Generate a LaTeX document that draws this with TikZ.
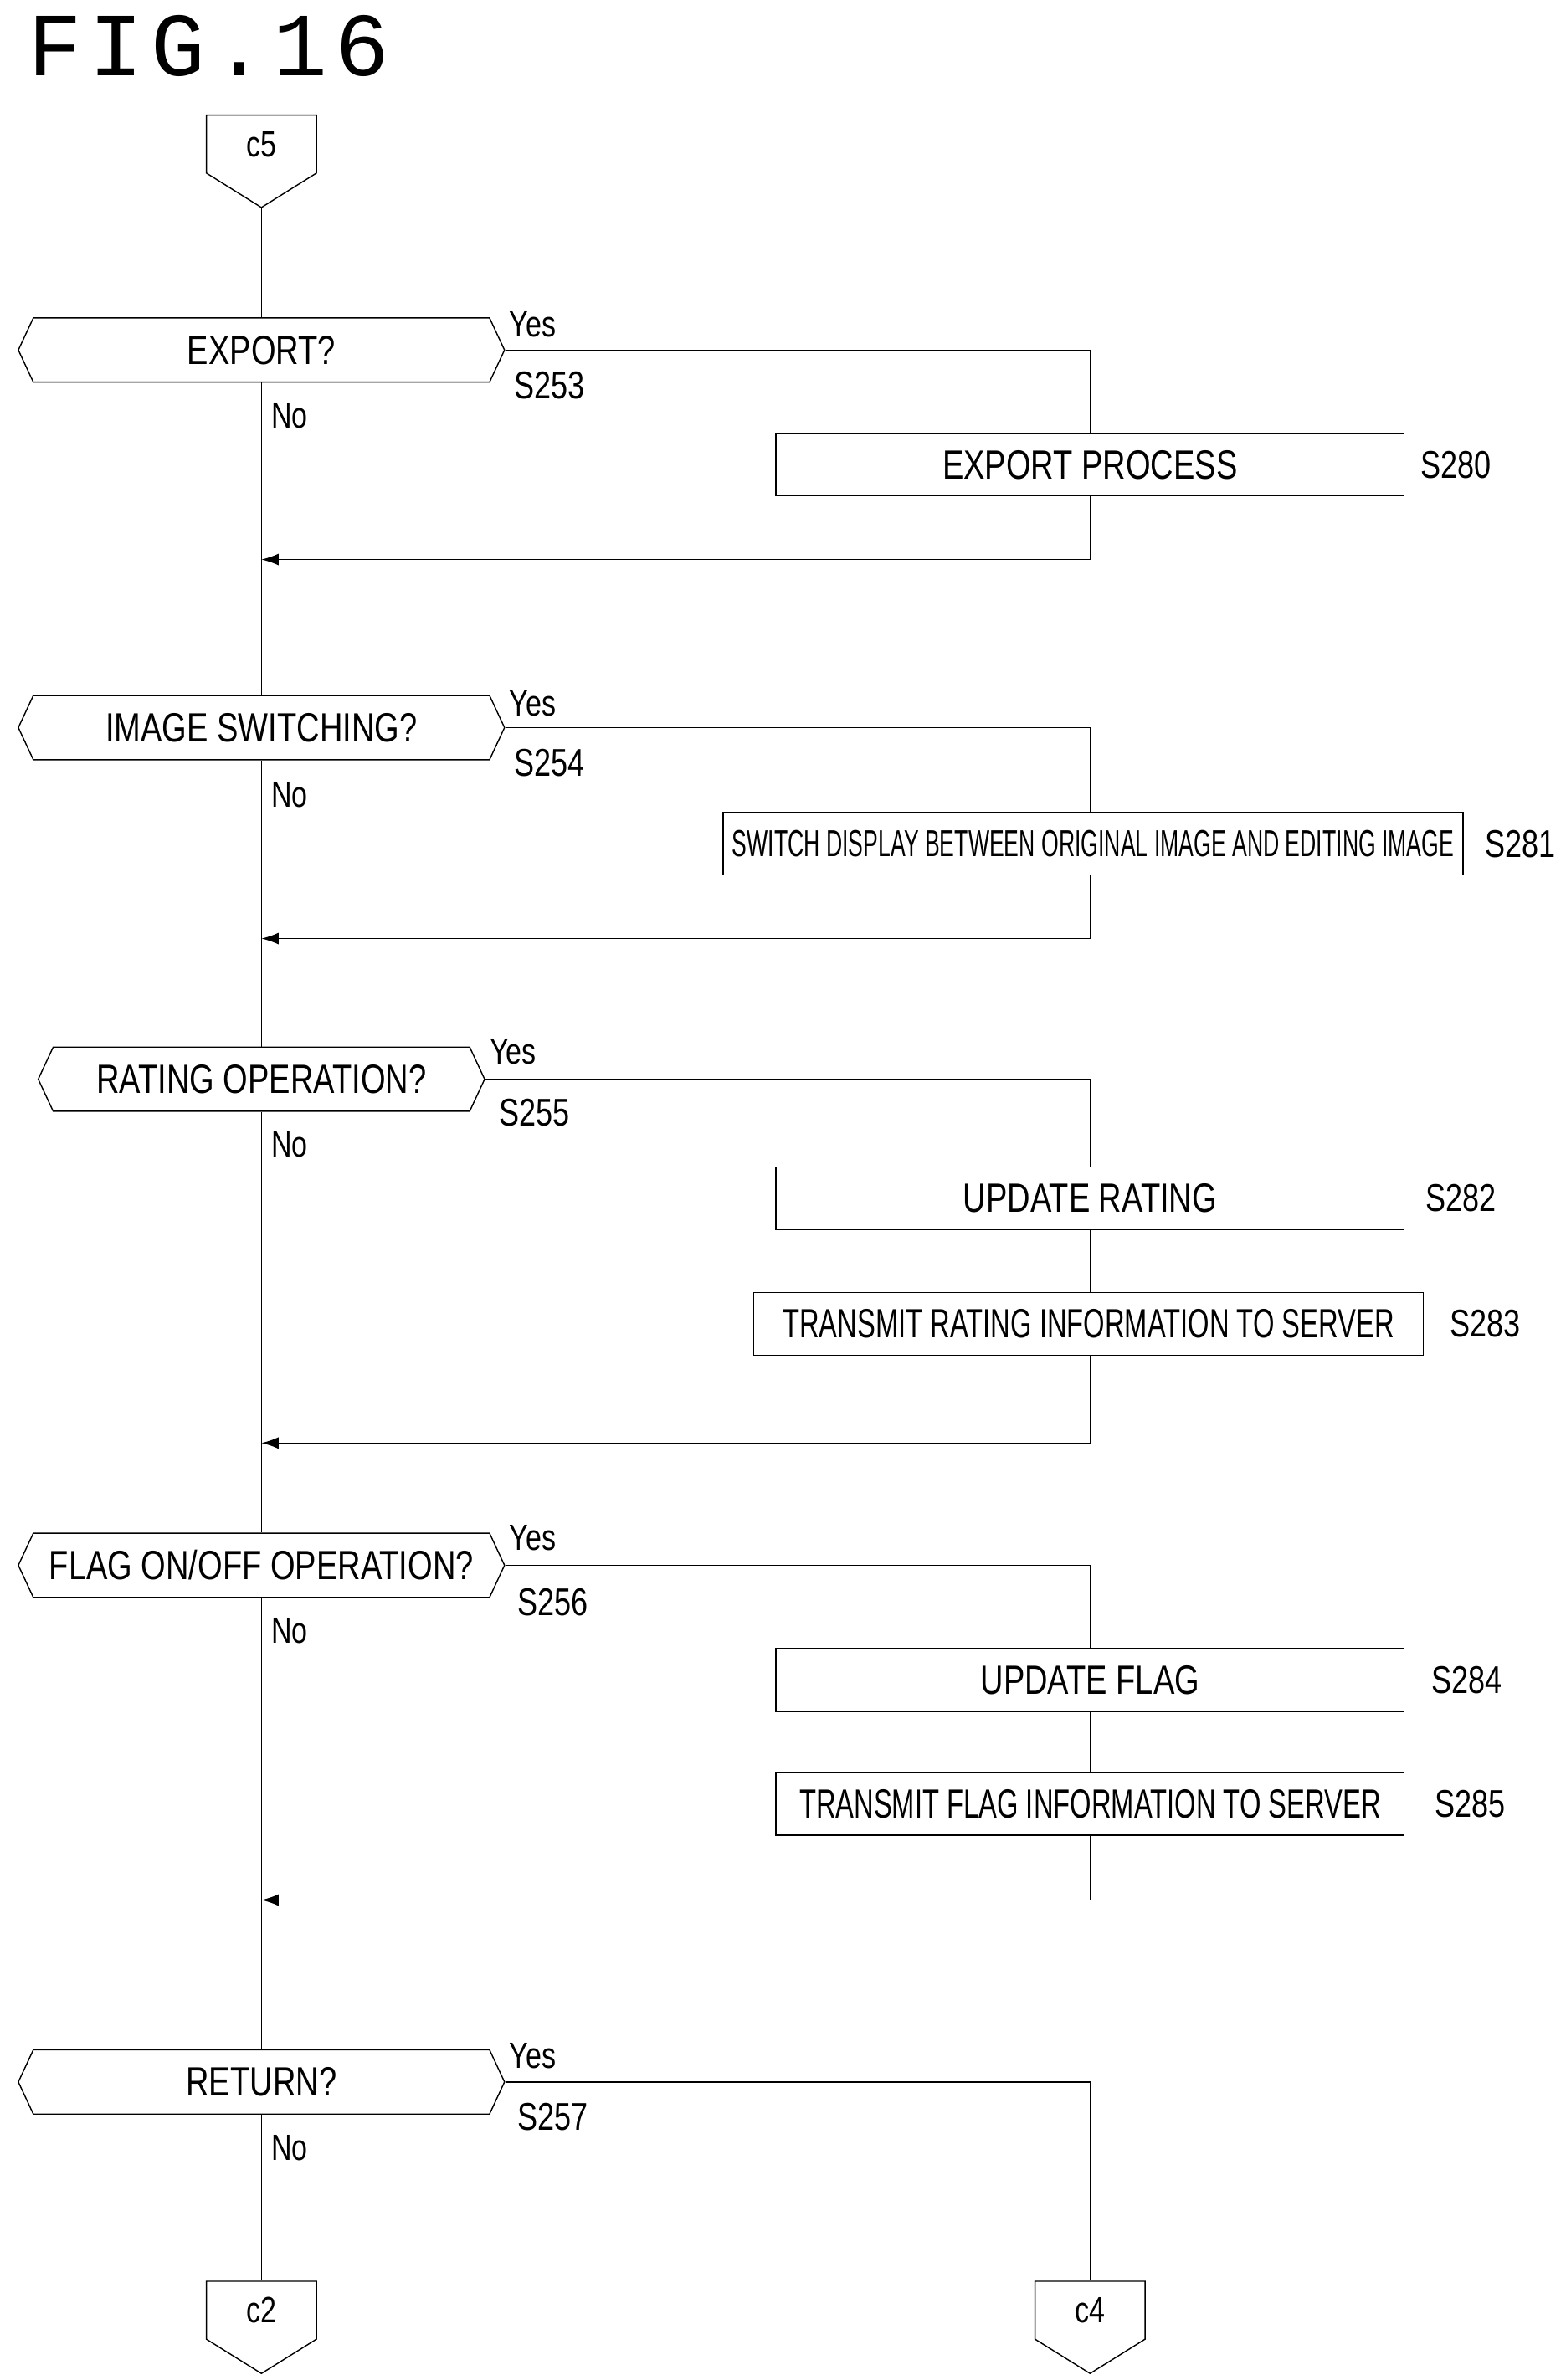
\documentclass[tikz,border=0pt]{standalone}
\usepackage{fontspec}
\setmainfont[FakeStretch=0.78]{Liberation Sans}
\newfontfamily\monof[LetterSpace=8]{Liberation Mono}
\usetikzlibrary{shapes.symbols,arrows.meta}
\begin{document}
\begin{tikzpicture}[x=0.5mm,y=-0.5mm, line width=1.1pt,
 dec/.style={draw, signal, signal to=east and west, signal pointer angle=130, minimum width=318*0.5mm, minimum height=42*0.5mm, inner sep=0pt, font=\fontsize{38}{40}\selectfont},
 proc/.style={draw, rectangle, minimum width=411*0.5mm, minimum height=41*0.5mm, inner sep=0pt, font=\fontsize{38}{40}\selectfont},
 conn/.style={draw, signal, signal to=south, signal pointer angle=116, minimum width=72*0.5mm, minimum height=44*0.5mm, inner sep=0pt, font=\fontsize{34}{36}\selectfont},
 lbl/.style={anchor=west, inner sep=0pt, font=\fontsize{36}{38}\selectfont},
 yn/.style={anchor=west, inner sep=0pt, font=\fontsize{34}{36}\selectfont},
 flow/.style={-{Latex[length=16pt,width=11pt]}}]
\useasboundingbox (0,0) rectangle (1024,1557);
\node[anchor=west, inner sep=0pt, font=\monof\fontsize{84}{84}\selectfont] (title) at (18,30) {FIG.16};
% connectors
\node[conn, anchor=north] (c5) at (171,75) {c5};
\node[conn, anchor=north] (c2) at (171,1492) {c2};
\node[conn, anchor=north] (c4) at (713,1492) {c4};
% decisions
\node[dec] (d253) at (171,229) {EXPORT?};
\node[dec] (d254) at (171,476) {IMAGE SWITCHING?};
\node[dec, minimum width=292*0.5mm] (d255) at (171,706) {RATING OPERATION?};
\node[dec] (d256) at (171,1024) {FLAG ON/OFF OPERATION?};
\node[dec] (d257) at (171,1362) {RETURN?};
% processes
\node[proc] (p280) at (713,304) {EXPORT PROCESS};
\node[proc, minimum width=484*0.5mm] (p281) at (715,552) {\scalebox{0.70}[0.92]{SWITCH DISPLAY BETWEEN ORIGINAL IMAGE AND EDITING IMAGE}};
\node[proc] (p282) at (713,784) {UPDATE RATING};
\node[proc, minimum width=438*0.5mm] (p283) at (712,866) {\scalebox{0.86}[1]{TRANSMIT RATING INFORMATION TO SERVER}};
\node[proc] (p284) at (713,1099) {UPDATE FLAG};
\node[proc] (p285) at (713,1180) {\scalebox{0.86}[1]{TRANSMIT FLAG INFORMATION TO SERVER}};
% merge points
\coordinate (m1) at (171,366);
\coordinate (m2) at (171,614);
\coordinate (m3) at (171,944);
\coordinate (m4) at (171,1243);
\coordinate (y1) at (713,229);
\coordinate (y2) at (713,476);
\coordinate (y3) at (713,706);
\coordinate (y4) at (713,1024);
\coordinate (y5) at (713,1362);
% main line
\draw (c5.south) -- (d253.north);
\draw (d253.south) -- (d254.north);
\draw (d254.south) -- (d255.north);
\draw (d255.south) -- (d256.north);
\draw (d256.south) -- (d257.north);
\draw (d257.south) -- (c2.north);
% branches
\draw (d253.east) -- (y1) -- (p280.north);
\draw[flow] (p280.south) |- (m1);
\draw (d254.east) -- (y2) -- (p281.north -| y2);
\draw[flow] (p281.south -| y2) |- (m2);
\draw (d255.east) -- (y3) -- (p282.north);
\draw (p282.south) -- (p283.north -| p282.south);
\draw[flow] (p283.south -| p282.south) |- (m3);
\draw (d256.east) -- (y4) -- (p284.north);
\draw (p284.south) -- (p285.north);
\draw[flow] (p285.south) |- (m4);
\draw (d257.east) -- (y5) -- (c4.north);
% labels
\node[yn] (yes1) at (333,212) {Yes};
\node[lbl] (s253) at (336,252) {S253};
\node[yn] (no1) at (177,272) {No};
\node[lbl] (s280) at (929,304) {S280};
\node[yn] (yes2) at (333,460) {Yes};
\node[lbl] (s254) at (336,499) {S254};
\node[yn] (no2) at (177,520) {No};
\node[lbl] (s281) at (971,552) {S281};
\node[yn] (yes3) at (320,688) {Yes};
\node[lbl] (s255) at (326,728) {S255};
\node[yn] (no3) at (177,749) {No};
\node[lbl] (s282) at (932,784) {S282};
\node[lbl] (s283) at (948,866) {S283};
\node[yn] (yes4) at (333,1006) {Yes};
\node[lbl] (s256) at (338,1048) {S256};
\node[yn] (no4) at (177,1067) {No};
\node[lbl] (s284) at (936,1099) {S284};
\node[lbl] (s285) at (938,1180) {S285};
\node[yn] (yes5) at (333,1345) {Yes};
\node[lbl] (s257) at (338,1385) {S257};
\node[yn] (no5) at (177,1405) {No};
\end{tikzpicture}
\end{document}
